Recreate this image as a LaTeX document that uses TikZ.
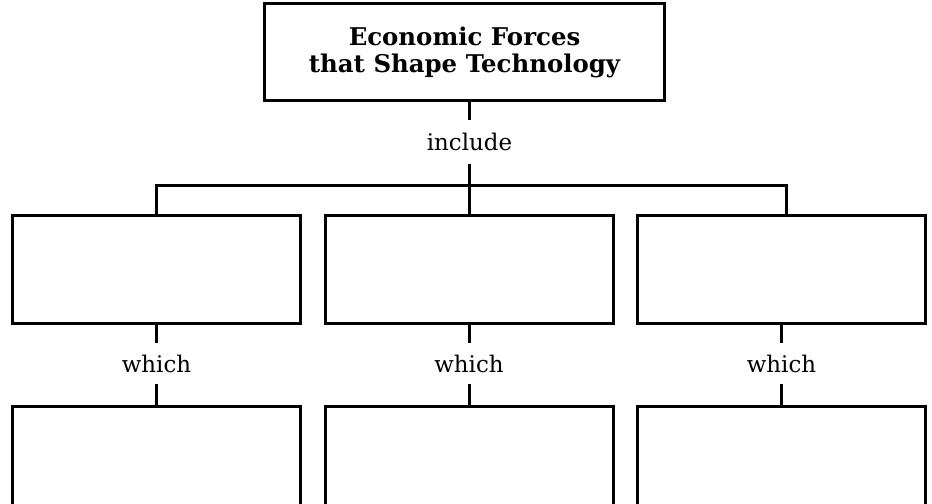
\documentclass[tikz,border=0pt]{standalone}
\usepackage{fontspec}
\setmainfont{DejaVu Serif}
\begin{document}
\begin{tikzpicture}[x=1bp,y=-1bp,
  box/.style={draw, line width=3bp, inner sep=0pt, outer sep=0pt, fill=white},
  midbox/.style={box, minimum width=288bp, minimum height=107bp},
  lowbox/.style={box, minimum width=288bp, minimum height=200bp},
  lbl/.style={inner sep=0pt, outer sep=0pt, font=\fontsize{23}{27}\selectfont},
  conn/.style={line width=3bp}]
\useasboundingbox (0,0) rectangle (932,504);
\fill[white] (0,0) rectangle (932,504);
\clip (0,0) rectangle (932,504);
% top box
\node[box, minimum width=400bp, minimum height=97bp, align=center,
      font=\bfseries\fontsize{24.5}{27}\selectfont] (top) at (464.5,52.5)
      {Economic Forces\\that Shape Technology};
% middle row
\node[midbox] (m1) at (156.5,269.5) {};
\node[midbox] (m2) at (469,269.5) {};
\node[midbox] (m3) at (781.5,269.5) {};
% bottom row (cut off by the page edge)
\node[lowbox, anchor=north] (b1) at (156.5,406) {};
\node[lowbox, anchor=north] (b2) at (469,406) {};
\node[lowbox, anchor=north] (b3) at (781.5,406) {};
% labels
\node[lbl, minimum height=44bp] (inc) at (469.5,142) {include};
\node[lbl, minimum height=41bp] (w1) at (156.5,363.5) {which};
\node[lbl, minimum height=41bp] (w2) at (469,363.5) {which};
\node[lbl, minimum height=41bp] (w3) at (781.5,363.5) {which};
% connectors
\coordinate (j) at (469.5,186);
\coordinate (jl) at (156.5,186);
\coordinate (jr) at (786,186);
\draw[conn] (top.south -| inc) -- (inc.north);
\draw[conn] (inc.south) -- (j) -- (j |- m2.north);
\draw[conn] (m1.north -| jl) -- (jl) -- (jr) -- (jr |- m3.north);
\draw[conn] (m1.south) -- (w1.north);
\draw[conn] (w1.south) -- (b1.north);
\draw[conn] (m2.south) -- (w2.north);
\draw[conn] (w2.south) -- (b2.north);
\draw[conn] (m3.south) -- (w3.north);
\draw[conn] (w3.south) -- (b3.north);
\end{tikzpicture}
\end{document}
